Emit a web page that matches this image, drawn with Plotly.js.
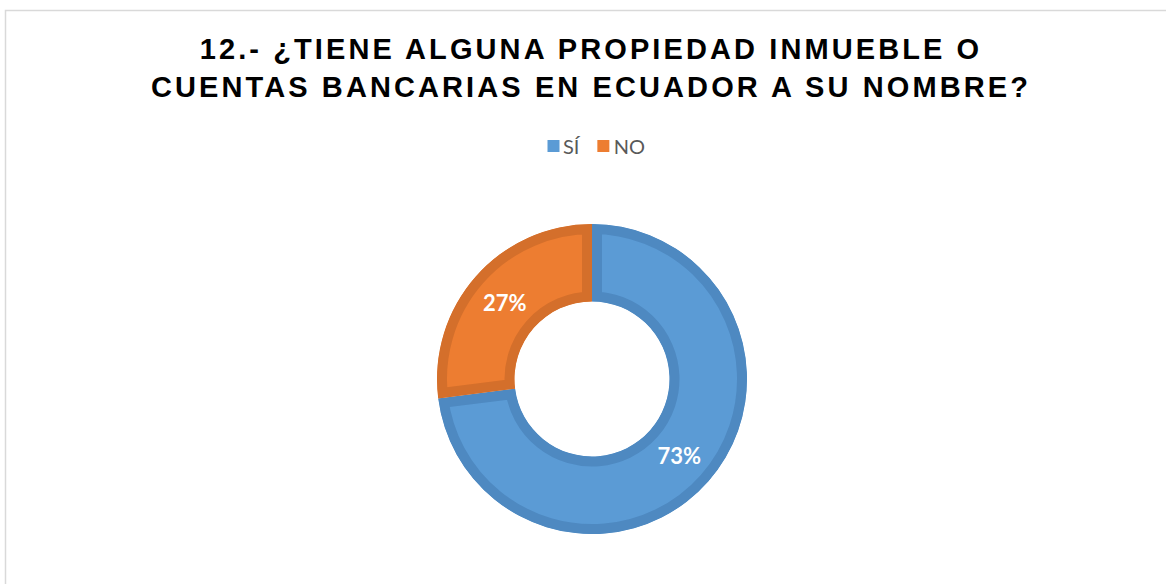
<!DOCTYPE html>
<html>
<head>
<meta charset="utf-8">
<script src="https://cdn.plot.ly/plotly-3.0.1.min.js"></script>
<style>
html,body{margin:0;padding:0;background:#fff;}
#chart{width:1166px;height:584px;}
.gtitle{letter-spacing:3.1px;}
.legend .legendpoints path{stroke-width:0 !important;}
.legend .traces:nth-of-type(1) .legendpoints{transform:translateX(7.5px);}
.legend .traces:nth-of-type(1) .legendtext{transform:translateX(-3px);}
.legend .traces:nth-of-type(2) .legendpoints{transform:translateX(-5.5px);}
.legend .traces:nth-of-type(2) .legendtext{transform:translateX(-15px);}
</style>
</head>
<body>
<div id="chart"></div>
<script>
const categories = ["SÍ", "NO"];
const values = [73, 27];
const fillColors = ["#5B9BD5", "#ED7D31"];
const borderColors = ["#4E89C1", "#D46F2B"];
const titleText = "12.- ¿TIENE ALGUNA PROPIEDAD INMUEBLE O<br>CUENTAS BANCARIAS EN ECUADOR A SU NOMBRE?";

const W = 1166, H = 584;
const cx = 592, cy = 379, R = 155;

const trace = {
  type: "pie",
  labels: categories,
  values: values,
  hole: 0.5,
  sort: false,
  direction: "clockwise",
  rotation: 0,
  marker: {colors: fillColors, line: {color: borderColors, width: 20}},
  textinfo: "percent",
  textposition: "inside",
  insidetextorientation: "horizontal",
  textfont: {family: "Lato", size: 22, color: "#ffffff", weight: "bold"},
  hoverinfo: "none",
  domain: {x: [(cx - R) / W, (cx + R) / W], y: [1 - (cy + R) / H, 1 - (cy - R) / H]}
};

const layout = {
  width: W, height: H,
  margin: {l: 0, r: 0, t: 0, b: 0},
  paper_bgcolor: "#ffffff",
  showlegend: true,
  title: {
    text: titleText,
    font: {family: "Liberation Sans, Arial, sans-serif", size: 29, color: "#000000", weight: "bold"},
    x: 591 / W, xanchor: "center",
    y: 1 - 59 / H, yanchor: "middle"
  },
  legend: {
    orientation: "h",
    x: 596 / W, xanchor: "center",
    y: 1 - 146 / H, yanchor: "middle",
    font: {family: "Lato", size: 20, color: "#595959"},
    itemwidth: 30,
    traceorder: "normal"
  },
  shapes: [{
    type: "rect", xref: "paper", yref: "paper",
    x0: 5.5 / W, x1: 1.1, y0: -0.1, y1: 1 - 10.5 / H,
    line: {color: "#D9D9D9", width: 1.5}, fillcolor: "rgba(0,0,0,0)", layer: "below"
  }]
};

Plotly.newPlot("chart", [trace], layout, {staticPlot: true}).then(function (gd) {
  // keep each slice's border inside its own shape (inset border)
  const svg = gd.querySelector(".main-svg");
  const NS = "http://www.w3.org/2000/svg";
  let defs = svg.querySelector("defs");
  gd.querySelectorAll(".pielayer path.surface").forEach(function (p, i) {
    const cp = document.createElementNS(NS, "clipPath");
    cp.setAttribute("id", "sliceclip" + i);
    const cpath = document.createElementNS(NS, "path");
    cpath.setAttribute("d", p.getAttribute("d"));
    cp.appendChild(cpath);
    defs.appendChild(cp);
    p.setAttribute("clip-path", "url(#sliceclip" + i + ")");
  });
});
</script>
</body>
</html>
